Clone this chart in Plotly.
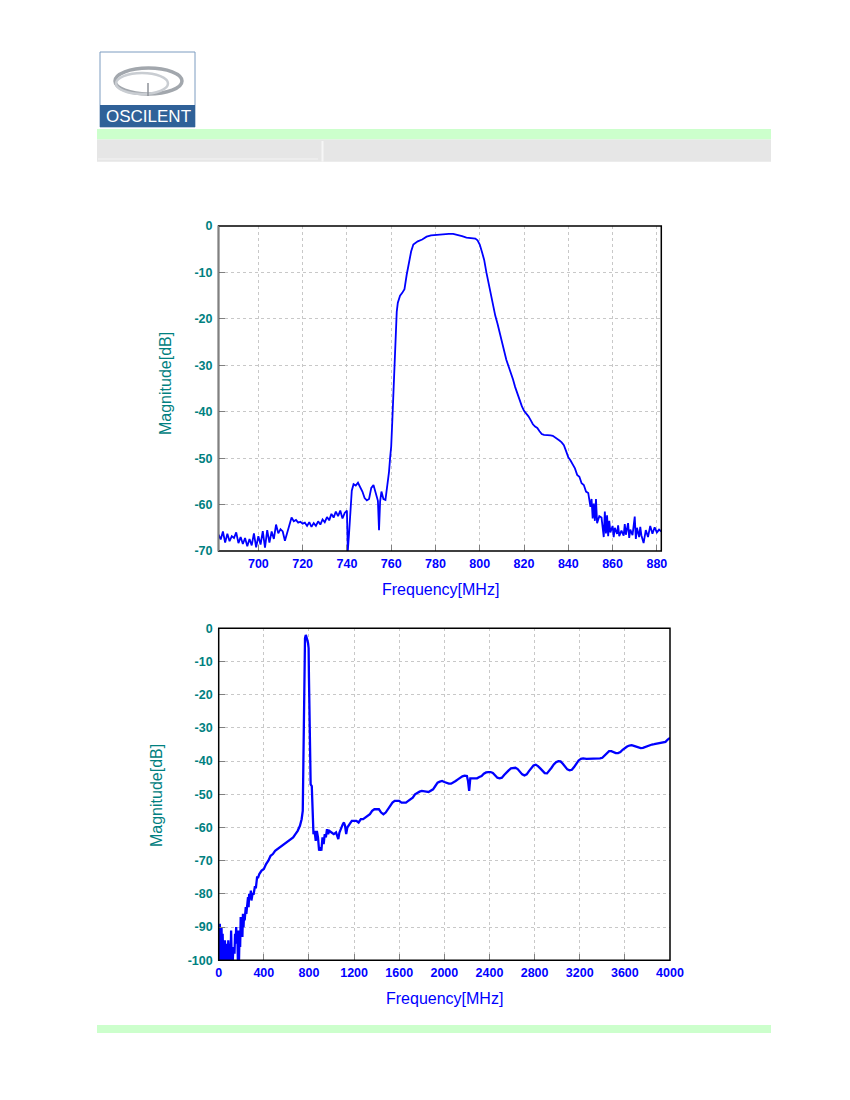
import plotly.graph_objs as go

# --- data ---
top_freq = [682, 683, 684, 685, 686, 687, 688, 689, 690, 691, 692, 693, 694, 695, 696, 697, 698, 699,
            700, 701, 702, 703, 704, 705, 706, 707, 708, 709, 710, 711, 712, 713, 714, 715, 716, 717,
            718, 719, 720, 721, 722, 723, 724, 725, 726, 727, 728, 729, 730, 731, 732, 733, 734, 735,
            736, 737, 738, 739, 740, 740.4, 741, 741.6, 742.2, 743, 744, 745, 746, 747, 748, 749, 750,
            751, 752, 753, 754, 754.5, 755, 755.6, 756.5, 757.4, 758, 759, 759.5, 760, 760.5, 761,
            761.5, 762, 762.5, 763, 763.5, 764, 765, 766, 767, 768, 769, 770, 771, 772, 774, 776, 778,
            780, 782, 784, 786, 788, 790, 792, 794, 796, 798, 799, 800, 801, 802, 803, 804, 805, 806,
            807, 808, 809, 810, 811, 812, 813, 814, 815, 816, 817, 818, 819, 820, 821, 822, 823, 824,
            825, 826, 827, 828, 829, 830, 831, 832, 833, 834, 835, 836, 837, 838, 839, 840, 841, 842,
            843, 844, 845, 846, 847, 848, 849, 850, 850.5, 851, 851.5, 852, 852.5, 853, 854, 855, 856,
            856.5, 857, 857.5, 858, 858.5, 859, 860, 860.5, 861, 862, 862.5, 863, 864, 865, 865.5, 866,
            867, 867.5, 868, 869, 870, 870.5, 871, 872, 872.5, 873, 874, 875, 876, 877, 878, 879, 880,
            881, 882]
top_mag = [-66.5, -67.5, -65.8, -68.2, -66.3, -67.9, -66.8, -67.2, -66, -68.3, -67, -68.5, -67.2, -69,
           -67.4, -68.8, -66.2, -69.2, -66.8, -68.6, -65.7, -69.3, -65.5, -68.2, -65.8, -67.4, -64.3,
           -66.2, -65.3, -65.8, -67.8, -66, -64.5, -62.8, -63.6, -63.3, -63.9, -63.7, -64.1, -63.9,
           -64.6, -63.8, -64.8, -64, -64.6, -63.6, -64.3, -63.2, -63.8, -62.7, -63.4, -62, -62.8, -61.5,
           -62.5, -61.3, -63, -61.8, -61.3, -70, -66, -61, -57, -55.6, -55.9, -55.3, -56.2, -57.2, -58.6,
           -59.1, -58.8, -56.4, -55.8, -57.6, -59.2, -65.5, -59.3, -57.2, -58.8, -59, -57, -53, -50,
           -47.5, -42, -35, -28, -22, -18.5, -16.5, -15.5, -15, -14.4, -13.6, -10.5, -7.5, -5.5, -4,
           -3.6, -3.3, -2.9, -2.3, -2, -1.9, -1.9, -1.7, -1.7, -1.7, -1.9, -2.2, -2.5, -2.6, -2.7, -3.1,
           -4, -5.6, -7.3, -10, -12.5, -15, -17.5, -19.3, -21, -23, -25.5, -27.3, -28.8, -30.2, -31.5,
           -33, -34.7, -36.2, -37.5, -38.8, -39.8, -40.3, -41, -41.8, -42.7, -43.2, -43.5, -44.2, -44.8,
           -45, -45, -45.1, -45.1, -45.2, -45.5, -45.8, -46.2, -46.6, -47.2, -48.5, -49.8, -50.5, -51.3,
           -52.2, -53.6, -54, -55.4, -55.8, -57.2, -57.5, -60.5, -58.8, -63, -59.8, -63.5, -58.8, -64,
           -62.5, -62.8, -67, -61.5, -66.2, -62.3, -66.8, -63.5, -66, -64.6, -67, -65, -66.3, -64.5,
           -66.8, -65.6, -66.7, -64.2, -66.5, -64, -67.2, -65.4, -66.6, -62.6, -67.4, -65, -67, -64.8,
           -66.6, -68.3, -65.5, -67, -64.6, -66.3, -64.9, -66, -65.4, -65.8]

wide_freq = [0, 5, 10, 15, 20, 25, 30, 35, 40, 45, 50, 55, 60, 65, 70, 75, 80, 85, 90, 95, 100, 105,
             110, 115, 120, 125, 130, 140, 145, 150, 155, 160, 165, 170, 175, 180, 185, 190, 195, 200,
             205, 210, 215, 220, 225, 230, 240, 245, 250, 255, 260, 265, 270, 280, 285, 290, 300, 310,
             320, 330, 340, 350, 360, 380, 400, 420, 440, 460, 480, 500, 520, 540, 560, 580, 600, 620,
             640, 660, 680, 700, 720, 735, 745, 750, 755, 760, 765, 772, 778, 785, 792, 797, 800, 805,
             810, 815, 825, 835, 840, 850, 860, 870, 880, 890, 900, 910, 920, 930, 940, 950, 960, 970,
             980, 1000, 1020, 1040, 1060, 1070, 1080, 1100, 1110, 1120, 1130, 1140, 1160, 1180, 1200,
             1220, 1240, 1260, 1280, 1300, 1320, 1340, 1360, 1380, 1400, 1420, 1440, 1460, 1480, 1500,
             1520, 1540, 1560, 1580, 1600, 1620, 1640, 1660, 1680, 1700, 1720, 1740, 1760, 1780, 1800,
             1820, 1840, 1860, 1880, 1900, 1920, 1940, 1960, 1980, 2000, 2020, 2040, 2060, 2080, 2100,
             2120, 2140, 2160, 2180, 2200, 2210, 2220, 2225, 2230, 2250, 2270, 2290, 2310, 2330, 2350,
             2370, 2390, 2410, 2430, 2450, 2470, 2490, 2510, 2530, 2550, 2570, 2590, 2610, 2630, 2650,
             2670, 2690, 2710, 2730, 2750, 2770, 2790, 2810, 2830, 2850, 2870, 2890, 2910, 2930, 2950,
             2970, 2990, 3010, 3030, 3050, 3070, 3090, 3110, 3130, 3150, 3170, 3190, 3210, 3230, 3260,
             3290, 3320, 3350, 3380, 3400, 3420, 3440, 3460, 3480, 3500, 3520, 3540, 3560, 3580, 3600,
             3620, 3640, 3660, 3680, 3700, 3720, 3740, 3760, 3780, 3800, 3820, 3840, 3860, 3880, 3900,
             3920, 3940, 3960, 3980, 4000]
wide_mag = [-93, -100, -89, -96, -100, -90, -99, -92, -100, -96, -100, -94, -100, -95, -99, -97, -100,
            -94, -98, -100, -96, -100, -91, -99, -97, -100, -96, -98, -92, -95, -90, -95, -91, -100,
            -96, -100, -91, -96, -87, -93, -89, -93, -86, -90, -86, -88, -84, -86, -83, -84, -81, -84,
            -80, -81, -79, -82, -80, -80, -78, -78, -75, -75, -74, -73, -72.5, -71, -70, -68.5, -68,
            -67, -66.5, -66, -65.5, -65, -64.5, -64, -63.5, -63, -62, -61, -59.5, -57.5, -55, -40, -25,
            -10, -3, -2, -2.5, -3.5, -4.5, -6, -15, -30, -42, -47, -47.5, -55, -62, -61, -64, -61, -63,
            -67, -66, -67, -63, -65, -62, -63, -60.5, -62, -61, -61.5, -62, -61.5, -63.5, -61.5, -60.5,
            -59, -58.5, -59.5, -62, -60, -59, -58, -58, -58, -58.5, -57.5, -57.5, -57, -56.5, -56, -55,
            -54.5, -54.5, -54.5, -55.5, -56, -55.5, -54.5, -53.5, -52.5, -52, -52, -52, -52.5, -52.5,
            -52.5, -52, -51.5, -51, -50, -49.5, -49.2, -49, -49, -49.2, -49.3, -49, -48.5, -47.5, -46.5,
            -46.2, -46, -46.3, -46.6, -46.8, -46.8, -46.5, -46, -45.5, -45, -44.6, -44.4, -44.5, -46,
            -49, -47, -45.2, -45.2, -45.3, -45.2, -44.8, -44.5, -43.8, -43.4, -43.3, -43.3, -43.6,
            -44.2, -45, -45.2, -45, -44.2, -43.4, -42.8, -42.2, -42, -42, -42.4, -43.2, -44, -44.3, -44,
            -43, -42, -41.3, -41.1, -41.5, -42.2, -43, -43.6, -43.7, -43, -42, -41, -40.3, -40, -40.1,
            -40.8, -41.7, -42.5, -42.8, -42.6, -41.8, -40.7, -39.8, -39.3, -39.2, -39.3, -39.3, -39.3,
            -39.3, -39.2, -39, -38.3, -37.5, -37, -37, -37.3, -37.6, -37.6, -37.3, -36.6, -36, -35.6,
            -35.3, -35.2, -35.4, -35.7, -36, -36.1, -36, -35.7, -35.4, -35.1, -35, -34.9, -34.8, -34.7,
            -34.6, -34.5, -34.2, -33.5, -33]

top_xticks = [700, 720, 740, 760, 780, 800, 820, 840, 860, 880]
top_yticks = [0, -10, -20, -30, -40, -50, -60, -70]
top_ytext = ["0", "-10", "-20", "-30", "-40", "-50", "-60", "-70"]
wide_xticks = [0, 400, 800, 1200, 1600, 2000, 2400, 2800, 3200, 3600, 4000]
wide_yticks = [0, -10, -20, -30, -40, -50, -60, -70, -80, -90, -100]
wide_ytext = ["0", "-10", "-20", "-30", "-40", "-50", "-60", "-70", "-80", "-90", "-100"]

# the page body keeps its 8px margin, so the figure is made 16px smaller
# and every position below is given in window pixels
OFF = 8
W, H = 850 - 2 * OFF, 1100 - 2 * OFF
TEAL = "#008080"
BLUE = "#0000ff"
FONT = "Liberation Sans, Arial"


def px(x):
    return (x - OFF) / W


def py(y):
    return 1 - (y - OFF) / H


fig = go.Figure()
fig.add_trace(go.Scatter(x=top_freq, y=top_mag, mode="lines", xaxis="x", yaxis="y",
                         line=dict(color=BLUE, width=1.8)))
fig.add_trace(go.Scatter(x=wide_freq, y=wide_mag, mode="lines", xaxis="x2", yaxis="y2",
                         line=dict(color=BLUE, width=2.3)))

xcommon = dict(showgrid=True, gridcolor="#c8c8c8", griddash="3px,3px", zeroline=False,
               ticks="inside", ticklen=6, tickcolor="#808080", showline=False,
               automargin=False, ticklabelstandoff=3,
               tickfont=dict(family=FONT, size=12.5, color=BLUE, weight="bold"))
ycommon = dict(showgrid=True, gridcolor="#c8c8c8", griddash="3px,3px", zeroline=False,
               ticks="inside", ticklen=6, tickcolor="#808080", showline=False,
               automargin=False, ticklabelstandoff=5,
               tickfont=dict(family=FONT, size=12.5, color=TEAL, weight="bold"))

top_box = (218.5, 226, 661.3, 551)
wide_box = (218.7, 628.3, 670, 960.3)

fig.update_layout(
    width=W, height=H, margin=dict(l=0, r=0, t=0, b=0),
    paper_bgcolor="white", plot_bgcolor="white", showlegend=False,
    xaxis=dict(domain=[px(top_box[0]), px(top_box[2])], range=[682, 882], tickvals=top_xticks,
               anchor="y", **xcommon),
    yaxis=dict(domain=[py(top_box[3]), py(top_box[1])], range=[-70, 0], tickvals=top_yticks,
               ticktext=top_ytext, anchor="x", **ycommon),
    xaxis2=dict(domain=[px(wide_box[0]), px(wide_box[2])], range=[0, 4000], tickvals=wide_xticks,
                anchor="y2", **xcommon),
    yaxis2=dict(domain=[py(wide_box[3]), py(wide_box[1])], range=[-100, 0], tickvals=wide_yticks,
                ticktext=wide_ytext, anchor="x2", **ycommon),
)

shapes = []
# plot frames
for x0, y0, x1, y1 in (top_box, wide_box):
    shapes.append(dict(type="rect", xref="paper", yref="paper", x0=px(x0), x1=px(x1),
                       y0=py(y1), y1=py(y0), line=dict(color="black", width=1.5), layer="above"))
shapes.append(dict(type="line", xref="paper", yref="paper", x0=px(top_box[0]), x1=px(top_box[0]),
                   y0=py(top_box[3]), y1=py(top_box[1]), line=dict(color="#808080", width=1.5),
                   layer="above"))

# header bands
shapes.append(dict(type="rect", xref="paper", yref="paper", x0=px(97), x1=px(771), y0=py(139.5),
                   y1=py(129), fillcolor="#ccffcc", line_width=0))
shapes.append(dict(type="rect", xref="paper", yref="paper", x0=px(97), x1=px(771), y0=py(161.7),
                   y1=py(139.5), fillcolor="#e6e6e6", line_width=0))
shapes.append(dict(type="line", xref="paper", yref="paper", x0=px(322.5), x1=px(322.5), y0=py(161.7),
                   y1=py(141), line=dict(color="#f6f6f6", width=2)))
shapes.append(dict(type="line", xref="paper", yref="paper", x0=px(98), x1=px(318), y0=py(159),
                   y1=py(159), line=dict(color="#f4f4f4", width=1)))
# footer band
shapes.append(dict(type="rect", xref="paper", yref="paper", x0=px(97), x1=px(771), y0=py(1033),
                   y1=py(1025), fillcolor="#ccffcc", line_width=0))

# logo
shapes.append(dict(type="rect", xref="paper", yref="paper", x0=px(100), x1=px(195), y0=py(127),
                   y1=py(52), fillcolor="white", line=dict(color="#7d9cc0", width=1)))
shapes.append(dict(type="rect", xref="paper", yref="paper", x0=px(100), x1=px(195), y0=py(127),
                   y1=py(105), fillcolor="#2f6198", line_width=0))
shapes.append(dict(type="circle", xref="paper", yref="paper", x0=px(115), x1=px(182), y0=py(94),
                   y1=py(68), line=dict(color="#a2a7ad", width=3.5)))
shapes.append(dict(type="circle", xref="paper", yref="paper", x0=px(116), x1=px(168), y0=py(94),
                   y1=py(73), line=dict(color="#c9cdd2", width=2.5)))
shapes.append(dict(type="line", xref="paper", yref="paper", x0=px(148), x1=px(148), y0=py(96),
                   y1=py(83), line=dict(color="#8e9298", width=1.5)))

fig.update_layout(shapes=shapes)

annotations = [
    dict(text="OSCILENT", x=px(148), y=py(116.5), font=dict(family=FONT, size=17, color="white")),
    dict(text="Magnitude[dB]", x=px(166), y=py(384), textangle=-90,
         font=dict(family=FONT, size=16, color=TEAL)),
    dict(text="Frequency[MHz]", x=px(440), y=py(589), font=dict(family=FONT, size=16, color=BLUE)),
    dict(text="Magnitude[dB]", x=px(156), y=py(796), textangle=-90,
         font=dict(family=FONT, size=16, color=TEAL)),
    dict(text="Frequency[MHz]", x=px(444), y=py(998), font=dict(family=FONT, size=16, color=BLUE)),
]
for a in annotations:
    a.update(xref="paper", yref="paper", showarrow=False, xanchor="center", yanchor="middle")
fig.update_layout(annotations=annotations)

fig.write_html("out.html")
